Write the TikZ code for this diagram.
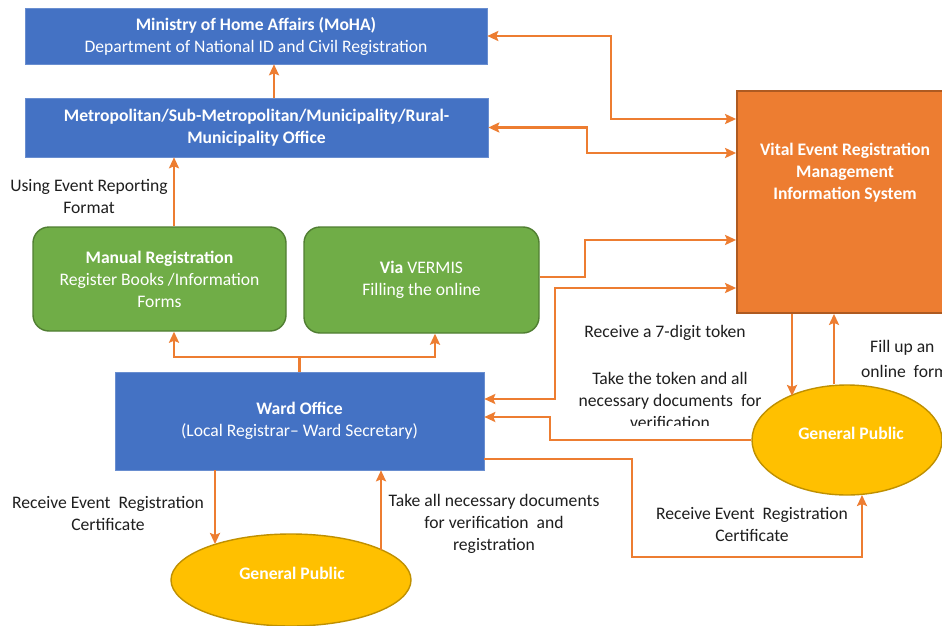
\documentclass[tikz,border=0pt]{standalone}
\usepackage{fontspec}
\setmainfont{Carlito}
\usetikzlibrary{arrows.meta,shapes.geometric}
\definecolor{blu}{HTML}{4472C4}
\definecolor{grn}{HTML}{70AD47}
\definecolor{grnd}{HTML}{507E32}
\definecolor{org}{HTML}{ED7D31}
\definecolor{orgd}{HTML}{AE5A21}
\definecolor{yel}{HTML}{FFC000}
\definecolor{yeld}{HTML}{BF9000}
\definecolor{txt}{HTML}{1F1F1F}
\tikzset{
  bluebox/.style={rectangle, fill=blu, draw=blu!80!white, line width=0.6pt, text=white, align=center, inner sep=0pt},
  greenbox/.style={rectangle, rounded corners=16pt, fill=grn, draw=grnd, line width=1.4pt, text=white, align=center, inner sep=0pt},
  orangebox/.style={rectangle, fill=org, draw=orgd, line width=1.8pt, text=white, align=center, inner sep=0pt},
  pubell/.style={ellipse, fill=yel, draw=yeld, line width=1.4pt, text=white, inner sep=0pt, font=\bfseries},
  lbl/.style={text=txt, align=center, inner sep=0pt},
  tip/.tip={Stealth[length=11pt,width=10pt,inset=2pt]},
  conn/.style={draw=org, line width=2.3pt, -tip},
  conn2/.style={draw=org, line width=2.3pt, tip-tip},
  plain/.style={draw=org, line width=2.3pt}
}
\begin{document}
\begin{tikzpicture}[x=1pt,y=-1pt,font=\fontsize{17.6}{22}\selectfont]
\useasboundingbox (0,0) rectangle (942,626);
\fill[white] (0,0) rectangle (942,626);

% boxes
\node[bluebox, minimum width=462pt, minimum height=56pt] (moha) at (256,36)
  {\textbf{Ministry of Home Affairs (MoHA)}\\Department of National ID and Civil Registration};
\node[bluebox, minimum width=463pt, minimum height=59pt] (muni) at (256.5,127.5)
  {\textbf{Metropolitan/Sub-Metropolitan/Municipality/Rural-}\\\textbf{Municipality Office}};
\node[greenbox, minimum width=253pt, minimum height=104pt] (manual) at (159.5,279)
  {\textbf{Manual Registration}\\Register Books /Information\\Forms};
\node[greenbox, minimum width=235pt, minimum height=106pt] (vermis) at (421.5,280)
  {\textbf{Via} VERMIS\\Filling the online};
\node[bluebox, minimum width=369pt, minimum height=98pt] (ward) at (299.5,421)
  {\textbf{Ward Office}\\(Local Registrar-- Ward Secretary)};
\node[orangebox, minimum width=214pt, minimum height=222pt] (vs) at (844,202) {};
\node[text=white, font=\fontsize{17.6}{22}\selectfont\bfseries, align=center] (vstext) at (845,173)
  {Vital Event Registration\\Management\\Information System};
\node[pubell, minimum width=190pt, minimum height=110pt] (gpr) at (847,440) {};
\node[text=white, font=\fontsize{17.6}{22}\selectfont\bfseries] (gprt) at (851,433) {General Public};
\node[pubell, minimum width=240pt, minimum height=92pt] (gpb) at (291,580) {};
\node[text=white, font=\fontsize{17.6}{22}\selectfont\bfseries] (gpbt) at (292,573) {General Public};

% connectors
\draw[conn] (muni.north -| 274,0) -- (moha.south -| 274,0);
\draw[conn] (manual.north -| 174,0) -- (muni.south -| 174,0);
\draw[conn] (ward.north) |- (174,357) -- (manual.south -| 174,0);
\draw[conn] (ward.north) |- (435,357) -- (vermis.south -| 435,0);
\draw[conn2] (moha.east) -- (611,36) |- (vs.west |- 0,119);
\draw[conn2] (muni.east) -- (587,127.5) |- (vs.west |- 0,153);
\draw[conn] (vermis.east |- 0,277) -- (585,277) |- (vs.west |- 0,240);
\draw[conn2] (ward.east |- 0,399) -- (555,399) |- (vs.west |- 0,288);
\draw[conn] (gpr.west) -- (550,440) |- (ward.east |- 0,417);
\draw[conn] (ward.east |- 0,459) -- (632,459) |- (862,557) -- (862,495);
\draw[conn] (vs.south -| 792,0) -- (792,396);
\draw[conn] (gpr.north -| 834,0) -- (vs.south -| 834,0);
\draw[conn] (ward.south -| 215,0) -- (215,544);
\draw[conn] (381,550) -- (ward.south -| 381,0);

% labels
\node[lbl] (l1) at (89,196) {Using Event Reporting\\Format};
\node[lbl] (l2) at (665,333) {Receive a 7-digit token};
\begin{scope}
\clip (560,360) rectangle (760,425);
\node[lbl] (l3) at (670,400) {Take the token and all\\necessary documents \ for\\verification};
\end{scope}
\node[lbl, anchor=west] (l4) at (861,348) {\hspace{9pt}Fill up an};
\node[lbl, anchor=west] (l5) at (861,371) {online \ form};
\node[lbl] (l6) at (108,513) {Receive Event \ Registration\\Certificate};
\node[lbl] (l7) at (494,524) {Take all necessary documents\\for verification \ and\\registration};
\node[lbl] (l8) at (752,524) {Receive Event \ Registration\\Certificate};
\end{tikzpicture}
\end{document}
